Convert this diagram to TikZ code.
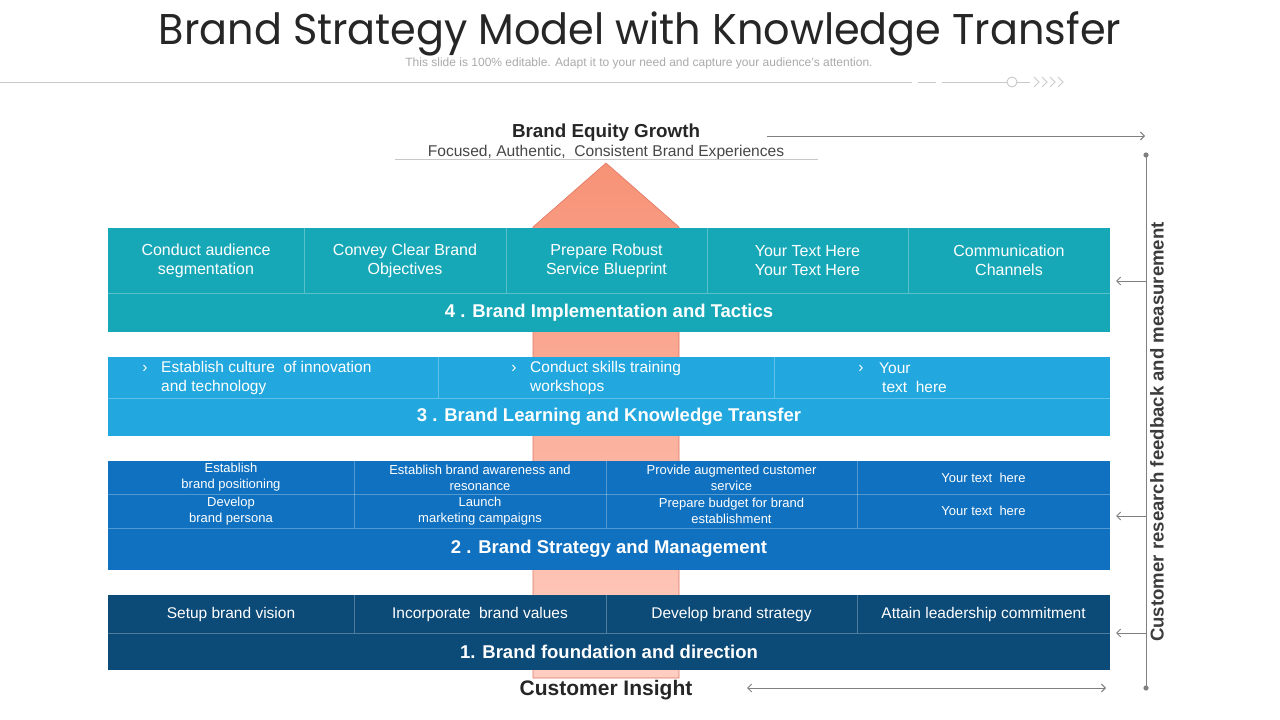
\documentclass[tikz,border=0pt]{standalone}
\usepackage{fontspec}
\setmainfont{Liberation Sans}
\newfontfamily\titlefont{Poppins}
\usetikzlibrary{arrows.meta}
\definecolor{tealfour}{RGB}{23,168,184}
\definecolor{bluethree}{RGB}{34,168,222}
\definecolor{bluetwo}{RGB}{16,113,192}
\definecolor{navyone}{RGB}{12,74,120}
\definecolor{arrowtop}{RGB}{247,146,118}
\definecolor{arrowbot}{RGB}{255,206,194}
\definecolor{arrowline}{RGB}{226,118,98}
\definecolor{guide}{RGB}{128,128,128}
\definecolor{deco}{RGB}{200,200,200}
\definecolor{darktext}{RGB}{38,38,38}
\definecolor{subgrey}{RGB}{170,170,170}
\tikzset{
  cell/.style={anchor=north west, inner sep=0pt, outer sep=0pt, text=white, align=center},
  headrow/.style={cell, font=\bfseries\fontsize{18.5}{21}\selectfont},
  txtfour/.style={font=\fontsize{16}{19}\selectfont},
  txttwo/.style={font=\fontsize{13}{16}\selectfont},
  txtone/.style={font=\fontsize{15.5}{18}\selectfont},
  bullet/.style={anchor=base, inner sep=0pt, text=white, font=\fontsize{15.5}{19}\selectfont},
  bullettext/.style={anchor=west, inner sep=0pt, text=white, align=left, font=\fontsize{15.5}{19}\selectfont},
  divider/.style={draw=white, draw opacity=0.28, line width=0.8pt},
  guideline/.style={draw=guide, line width=0.9pt},
  guidearrow/.style={guideline, -{Straight Barb[length=4pt,width=8pt]}},
  decoline/.style={draw=deco, line width=0.9pt},
}
\begin{document}
\begin{tikzpicture}[x=1pt,y=-1pt]
\useasboundingbox[fill=white] (0,0) rectangle (1280,720);

% ---- title block
\node[anchor=base, inner sep=0pt, text=darktext, font=\titlefont\fontsize{43}{50}\selectfont] (title) at (640,44) {\scalebox{0.962}[1]{Brand Strategy Model with Knowledge Transfer}};
\node[anchor=base, inner sep=0pt, text=subgrey, font=\fontsize{12}{14}\selectfont] (subtitle) at (639,66) {This slide is 100\% editable. Adapt it to your need and capture your audience's attention.};

\coordinate (d0) at (0,82);
\coordinate (d1) at (912,82);
\coordinate (d2) at (918,82);
\coordinate (d3) at (936,82);
\coordinate (d4) at (942,82);
\coordinate (d5) at (1007,82);
\coordinate (d6) at (1017,82);
\coordinate (d7) at (1030,82);
\draw[decoline] (d0) -- (d1);
\draw[decoline] (d2) -- (d3);
\draw[decoline] (d4) -- (d5);
\draw[decoline] (d6) -- (d7);
\node[draw=deco, line width=0.9pt, circle, inner sep=0pt, minimum size=10pt] (ring) at (1012,82) {};
\foreach \cx in {1034,1042,1050,1058}
  \draw[decoline] (\cx,77) -- (\cx+5,82) -- (\cx,87);

% ---- growth arrow
\shade[top color=arrowtop, bottom color=arrowbot, draw=arrowline, line width=0.6pt]
  (533,678) -- (533,227) -- (606,163) -- (679,227) -- (679,678) -- cycle;

% ---- top labels
\node[anchor=base, inner sep=0pt, text=darktext, font=\bfseries\fontsize{18.8}{21}\selectfont] (equity) at (606,137) {Brand Equity Growth};
\node[anchor=base, inner sep=0pt, text=darktext!85, font=\fontsize{15.6}{17}\selectfont] (focus) at (606,156) {Focused, Authentic,\ \ Consistent Brand Experiences};
\coordinate (u0) at (395,159);
\coordinate (u1) at (818,159);
\draw[draw=deco, line width=0.8pt] (u0) -- (u1);
\coordinate (e0) at (767,136);
\coordinate (e1) at (1145,136);
\draw[guidearrow] (e0) -- (e1);

% ---- box 4
\node[cell, txtfour, fill=tealfour, minimum width=196pt, minimum height=65pt] (c41) at (108,228) {Conduct audience\\segmentation};
\node[cell, txtfour, fill=tealfour, minimum width=202pt, minimum height=65pt] (c42) at (304,228) {Convey Clear Brand\\Objectives};
\node[cell, txtfour, fill=tealfour, minimum width=201pt, minimum height=65pt] (c43) at (506,228) {Prepare Robust\\Service Blueprint};
\node[cell, txtfour, fill=tealfour, minimum width=201pt, minimum height=65pt] (c44) at (707,228) {Your Text Here\\Your Text Here};
\node[cell, txtfour, fill=tealfour, minimum width=202pt, minimum height=65pt] (c45) at (908,228) {Communication\\Channels};
\node[headrow, fill=tealfour, minimum width=1002pt, minimum height=39pt] (h4) at (108,293) {4 . Brand Implementation and Tactics};
\draw[divider] (c41.north east) -- (c41.south east);
\draw[divider] (c42.north east) -- (c42.south east);
\draw[divider] (c43.north east) -- (c43.south east);
\draw[divider] (c44.north east) -- (c44.south east);
\draw[divider] (h4.north west) -- (h4.north east);

% ---- box 3
\node[cell, fill=bluethree, minimum width=330pt, minimum height=41pt] (c31) at (108,357) {};
\node[cell, fill=bluethree, minimum width=336pt, minimum height=41pt] (c32) at (438,357) {};
\node[cell, fill=bluethree, minimum width=336pt, minimum height=41pt] (c33) at (774,357) {};
\node[headrow, fill=bluethree, minimum width=1002pt, minimum height=38pt] (h3) at (108,398) {3 . Brand Learning and Knowledge Transfer};
\draw[divider] (c31.north east) -- (c31.south east);
\draw[divider] (c32.north east) -- (c32.south east);
\draw[divider] (h3.north west) -- (h3.north east);
\node[bullet] (b31) at (145,372) {›};
\node[bullettext] (t31) at (161,377.5) {Establish culture\ \ of innovation\\and technology};
\node[bullet] (b32) at (514,372) {›};
\node[bullettext] (t32) at (530,377.5) {Conduct skills training\\workshops};
\node[bullet] (b33) at (861,372) {›};
\node[bullettext] (t33) at (879,377.5) {Your\\\hspace{3pt}text\ \ here};

% ---- box 2
\node[cell, txttwo, fill=bluetwo, minimum width=246pt, minimum height=33pt] (c211) at (108,461) {Establish\\brand positioning};
\node[cell, txttwo, fill=bluetwo, minimum width=252pt, minimum height=33pt] (c212) at (354,461) {Establish brand awareness and\\resonance};
\node[cell, txttwo, fill=bluetwo, minimum width=251pt, minimum height=33pt] (c213) at (606,461) {Provide augmented customer\\service};
\node[cell, txttwo, fill=bluetwo, minimum width=253pt, minimum height=33pt] (c214) at (857,461) {Your text\ \ here};
\node[cell, txttwo, fill=bluetwo, minimum width=246pt, minimum height=34pt] (c221) at (108,494) {Develop\\brand persona};
\node[cell, txttwo, fill=bluetwo, minimum width=252pt, minimum height=34pt] (c222) at (354,494) {Launch\\marketing campaigns};
\node[cell, txttwo, fill=bluetwo, minimum width=251pt, minimum height=34pt] (c223) at (606,494) {Prepare budget for brand\\establishment};
\node[cell, txttwo, fill=bluetwo, minimum width=253pt, minimum height=34pt] (c224) at (857,494) {Your text\ \ here};
\node[headrow, fill=bluetwo, minimum width=1002pt, minimum height=42pt] (h2) at (108,528) {2 . Brand Strategy and Management};
\draw[divider] (c211.north east) -- (c221.south east);
\draw[divider] (c212.north east) -- (c222.south east);
\draw[divider] (c213.north east) -- (c223.south east);
\draw[divider] (c221.north west) -- (c224.north east);
\draw[divider] (h2.north west) -- (h2.north east);

% ---- box 1
\node[cell, txtone, fill=navyone, minimum width=246pt, minimum height=38pt] (c11) at (108,595) {Setup brand vision};
\node[cell, txtone, fill=navyone, minimum width=252pt, minimum height=38pt] (c12) at (354,595) {Incorporate\ \ brand values};
\node[cell, txtone, fill=navyone, minimum width=251pt, minimum height=38pt] (c13) at (606,595) {Develop brand strategy};
\node[cell, txtone, fill=navyone, minimum width=253pt, minimum height=38pt] (c14) at (857,595) {Attain leadership commitment};
\node[headrow, fill=navyone, minimum width=1002pt, minimum height=37pt] (h1) at (108,633) {1. Brand foundation and direction};
\draw[divider] (c11.north east) -- (c11.south east);
\draw[divider] (c12.north east) -- (c12.south east);
\draw[divider] (c13.north east) -- (c13.south east);
\draw[divider] (h1.north west) -- (h1.north east);

% ---- bottom label
\node[anchor=base, inner sep=0pt, text=darktext, font=\bfseries\fontsize{21}{23}\selectfont] (insight) at (606,695) {Customer Insight};
\coordinate (i0) at (747,688);
\coordinate (i1) at (1106,688);
\draw[guideline, {Straight Barb[length=4pt,width=8pt]}-{Straight Barb[length=4pt,width=8pt]}] (i0) -- (i1);

% ---- feedback rail
\coordinate (vtop) at (1146,155);
\coordinate (vbot) at (1146,688);
\draw[guideline] (vtop) -- (vbot);
\fill[guide] (vtop) circle (2.6);
\fill[guide] (vbot) circle (2.6);
\coordinate (f4) at (1146,281);
\coordinate (g4) at (1116,281);
\coordinate (f2) at (1146,516);
\coordinate (g2) at (1116,516);
\coordinate (f1) at (1146,633);
\coordinate (g1) at (1116,633);
\draw[guidearrow] (f4) -- (g4);
\draw[guidearrow] (f2) -- (g2);
\draw[guidearrow] (f1) -- (g1);
\node[rotate=90, inner sep=0pt, text=darktext!90, font=\bfseries\fontsize{18.6}{20}\selectfont] (feedback) at (1157,432) {Customer research feedback and measurement};
\end{tikzpicture}
\end{document}
